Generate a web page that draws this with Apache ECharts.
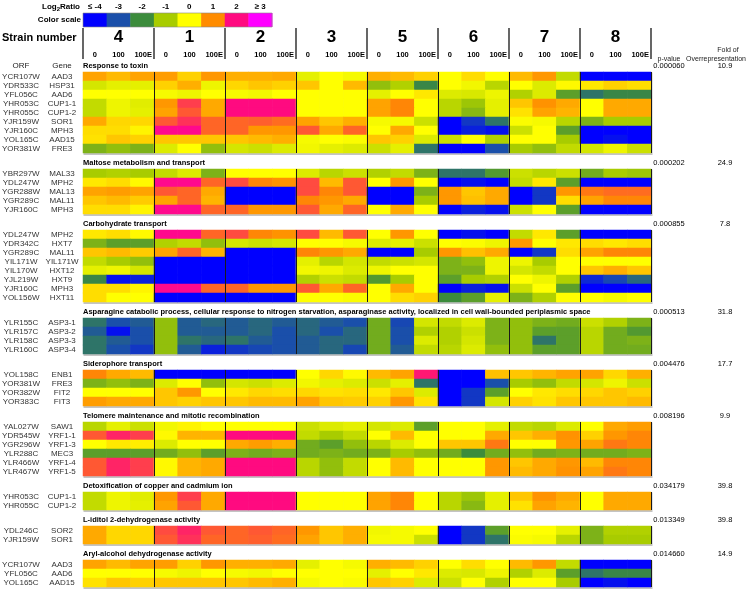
<!DOCTYPE html>
<html><head><meta charset="utf-8">
<script src="https://cdn.jsdelivr.net/npm/echarts@6.0.0/dist/echarts.min.js"></script>
<style>html,body{margin:0;padding:0;background:#fff;}#chart{width:750px;height:596px;}</style>
</head><body><div id="chart"></div>
<script>
// ---------------- data ----------------
const strains = ['4', '1', '2', '3', '5', '6', '7', '8'];
const conditions = ['0', '100', '100E'];
const scaleLabels = ['≤ -4', '-3', '-2', '-1', '0', '1', '2', '≥ 3'];
const scaleColors = ['#0000ff', '#1a4faa', '#3c8c3c', '#a8cc00', '#ffff00', '#ff8c00', '#ff0a80', '#ff00ff'];
const scaleMin = -4, scaleMax = 3;

const sectionTitles = [
  'Response to toxin',
  'Maltose metabolism and transport',
  'Carbohydrate transport',
  'Asparagine catabolic process, cellular response to nitrogen starvation, asparaginase activity, localized in cell wall-bounded periplasmic space',
  'Siderophore transport',
  'Telomere maintenance and mitotic recombination',
  'Detoxification of copper and cadmium ion',
  'L-iditol 2-dehydrogenase activity',
  'Aryl-alcohol dehydrogenase activity'
];
const pValues = ['0.000060', '0.000202', '0.000855', '0.000513', '0.004476', '0.008196', '0.034179', '0.013349', '0.014660'];
const foldValues = ['10.9', '24.9', '7.8', '31.8', '17.7', '9.9', '39.8', '39.8', '14.9'];

const sectionOrfs = [
  ['YCR107W', 'YDR533C', 'YFL056C', 'YHR053C', 'YHR055C', 'YJR159W', 'YJR160C', 'YOL165C', 'YOR381W'],
  ['YBR297W', 'YDL247W', 'YGR288W', 'YGR289C', 'YJR160C'],
  ['YDL247W', 'YDR342C', 'YGR289C', 'YIL171W', 'YIL170W', 'YJL219W', 'YJR160C', 'YOL156W'],
  ['YLR155C', 'YLR157C', 'YLR158C', 'YLR160C'],
  ['YOL158C', 'YOR381W', 'YOR382W', 'YOR383C'],
  ['YAL027W', 'YDR545W', 'YGR296W', 'YLR288C', 'YLR466W', 'YLR467W'],
  ['YHR053C', 'YHR055C'],
  ['YDL246C', 'YJR159W'],
  ['YCR107W', 'YFL056C', 'YOL165C']
];
const sectionGenes = [
  ['AAD3', 'HSP31', 'AAD6', 'CUP1-1', 'CUP1-2', 'SOR1', 'MPH3', 'AAD15', 'FRE3'],
  ['MAL33', 'MPH2', 'MAL13', 'MAL11', 'MPH3'],
  ['MPH2', 'HXT7', 'MAL11', 'YIL171W', 'HXT12', 'HXT9', 'MPH3', 'HXT11'],
  ['ASP3-1', 'ASP3-2', 'ASP3-3', 'ASP3-4'],
  ['ENB1', 'FRE3', 'FIT2', 'FIT3'],
  ['SAW1', 'YRF1-1', 'YRF1-3', 'MEC3', 'YRF1-4', 'YRF1-5'],
  ['CUP1-1', 'CUP1-2'],
  ['SOR2', 'SOR1'],
  ['AAD3', 'AAD6', 'AAD15']
];

// log2 ratios, columns: strains 4,1,2,3,5,6,7,8 x conditions 0,100,100E
const rAAD3   = [0.8,0.6,0.8, 0.85,0.4,0.9, 0.7,0.7,0.75, -0.3,0,-0.1, 0.7,0.6,0.4, 0,0.3,0, 0.6,0.9,-0.7, -4,-4,-4];
const rHSP31  = [-0.5,-0.3,-0.3, 0.4,0.7,-0.2, 0.35,0.5,0.4, 0.5,0,0.6, -1.2,-0.9,-2.1, 0,-0.15,-0.8, 0,-0.4,0.05, 0.2,0.4,0.3];
const rAAD6   = [0,0,0, -0.1,-0.2,0, -0.1,-0.15,0, 0,0,0, -0.3,0,0.2, -0.4,-0.45,-0.2, -0.9,-0.4,-1.7, -2.4,-2.1,-2.1];
const rCUP1_1 = [-0.7,-0.2,-0.35, 0.9,1.6,0.75, 2,2,2, 0,0,0, 0.8,1.05,0, -0.8,-1.1,-0.3, 0.5,0.95,0.75, 0,0.75,0.75];
const rCUP1_2 = [-0.7,-0.2,-0.3, 0.8,1.4,0.75, 2,2,2, 0,0,0, 0.8,1.05,0, -0.8,-1.3,-0.3, 0.25,0.8,0.65, 0,0.75,0.75];
const rSOR1   = [0.75,0.35,0.35, 1.4,1.7,1.3, 1.3,1.35,1.25, 0.8,0.5,0.7, -0.1,-0.1,-0.6, -4,-3.3,-2.4, -0.05,-0.1,-0.8, -1.4,-1.0,-1.0];
const rMPH3   = [0.3,0.3,0.1, 2.1,2.1,1.3, 1.3,0.9,0.9, 1.4,0.75,1.3, 0,0.75,0, -4,-3.6,-3.8, -0.6,0,-1.7, -4,-4,-4];
const rAAD15  = [0.25,0.5,0.4, 0.5,0.5,0.5, 0.5,0.6,0.7, -0.1,0,-0.05, 0.5,0.4,-0.4, -0.6,0,-0.9, 0,0,-1.0, -4,-3.8,-4];
const rFRE3   = [-1.4,-1.2,-1.4, -0.4,0,-1.2, -0.5,-0.6,-0.4, -0.15,-0.3,-0.4, -0.6,-0.3,-2.4, -4,-4,-3, -1.0,-1.2,-0.7, -0.5,-0.2,-0.6];
const rMAL33  = [-1.0,-0.9,-1.0, -0.7,-0.4,-1.4, 0,0,0, -0.4,-0.8,-0.6, -0.9,-0.7,-1.4, -2.4,-2.4,-1.8, -0.6,-0.8,-0.6, -1.5,-1.0,-1.1];
const rMPH2   = [0.2,0.3,0.05, 2.1,2.1,1.3, 1.5,1.05,0.95, 1.5,0.6,1.4, 0,0.9,0, -4,-3.8,-4, -0.7,0.2,-1.7, -4,-4,-4];
const rMAL13  = [0.8,0.85,0.8, 1.4,1.3,0.75, -4,-4,-4, 1.5,1.05,1.4, -4,-4,-1.4, 0.9,0.5,0.75, -4,-3.3,0.9, 1.15,1.25,1.25];
const rMAL11  = [0.5,0.6,0.45, 0.8,1.3,0.65, -4,-4,-4, 1.05,0.9,0.75, -4,-4,-1.0, 0.9,0.55,0.75, -4,-3.3,0.3, 0.8,1.05,1.05];
const rHXT7   = [-1.4,-1.7,-1.7, -0.9,-0.7,-1.2, -0.5,-0.6,-0.5, 0,0,-0.1, -0.4,-0.3,-0.6, 0,-0.05,-0.2, 0.9,0,0.2, 0.3,0.2,0.3];
const rYIL171W= [-0.7,-1.0,-1.2, -4,-4,-4, -4,-4,-4, -0.3,-0.8,-0.5, -0.7,-0.6,-0.5, -1.4,-1.2,-0.2, -0.2,-1.0,0, 0,0,0];
const rHXT12  = [-0.3,-0.2,-0.5, -4,-4,-4, -4,-4,-4, -0.15,-0.2,-0.4, -0.2,0,0, -1.4,-1.4,-0.2, -0.5,-0.7,0, 0.5,0.7,0.5];
const rHXT9   = [-2.1,-3.8,-3.6, -4,-4,-4, -4,-4,-4, -0.9,-0.6,-0.7, -1.8,-1.0,0, -1.7,-1.0,-0.9, 0,-0.2,-0.9, -3.5,-3.1,-2.6];
const rHXT11  = [0.3,0,0, -4,-4,-4, -4,-4,-4, 0,0,-0.05, 0,0.3,0.4, -2.0,-1.7,-0.3, -1.4,-0.9,0, 0,-0.1,0];
const rASP3_1 = [-2.4,-3.0,-2.8, -1.2,-2.8,-2.6, -2.8,-2.6,-2.8, -2.6,-2.8,-3.0, -1.5,-3.1,-0.5, -0.7,-0.4,-1.4, -1.2,-1.4,-1.5, -0.6,-0.9,-1.4];
const rASP3_2 = [-2.8,-3.8,-3.0, -1.2,-2.8,-2.8, -2.8,-2.6,-3.0, -2.6,-3.0,-2.6, -1.5,-3.0,-0.9, -0.9,-0.6,-1.4, -1.2,-1.7,-1.7, -0.8,-1.5,-1.8];
const rASP3_3 = [-2.4,-2.8,-3.0, -1.2,-2.4,-2.6, -2.4,-2.8,-3.0, -2.8,-2.6,-2.6, -1.5,-3.0,-0.4, -0.9,-0.5,-1.4, -1.2,-2.4,-1.7, -0.8,-1.5,-1.4];
const rASP3_4 = [-2.4,-3.0,-3.3, -1.2,-2.8,-3.6, -3.3,-3.1,-3.0, -2.8,-2.6,-3.1, -1.5,-2.8,-0.7, -0.8,-0.4,-1.2, -1.2,-1.7,-1.7, -0.8,-1.5,-1.5];
const rENB1   = [1.05,0.75,0.6, -4,-4,-4, -4,-4,-4, 0,0.35,0.05, 0.6,0.8,1.9, -4,-4,0.55, 0.5,0.65,0.8, 0.8,0.35,0.7];
const rFIT2   = [0,0,0, 0.5,0.9,0, 0.2,0.35,0.3, 0.35,0.25,0.3, 0.2,0.5,-0.4, -4,-3.3,-1.7, 0,0.2,0.3, 0.35,0.5,0.4];
const rFIT3   = [0.85,0.75,0.75, 0.5,0.4,0.5, 0.5,0.6,0.6, 0.8,0.5,0.45, 0.4,0.9,0.25, -4,-3.3,-0.5, 0.4,0.25,0.5, 0.5,0.5,0.6];
const rSAW1   = [-0.8,-0.3,-0.6, -0.15,0.1,0, 0,0,0, -0.6,-0.4,-0.3, -0.5,-0.4,-1.7, 0,0,-0.3, -0.7,-0.8,-0.4, 0,0.75,0.85];
const rYRF1_1 = [1.4,1.8,1.6, 0.05,0.65,0.65, 2,2,2, -0.7,-1.0,-0.7, 0,0.6,0, 0,0,0.75, 0.5,0.7,0.95, 0.4,0.9,1.05];
const rYRF1_3 = [0,0.2,0.15, -0.4,0,0, 0.75,0.85,0.7, -1.5,-1.7,-1.2, -0.8,-0.4,0, 0.5,0.5,1.15, 0,0,0.9, 0.8,1.15,1.05];
const rMEC3   = [-1.7,-1.7,-1.7, -1.5,-1.2,-1.7, -1.4,-1.5,-1.4, -1.5,-1.4,-1.5, -1.4,-1.0,-1.2, -1.5,-2.0,-1.5, -1.2,-1.5,-1.4, -1.5,-1.5,-1.4];
const rYRF1_4 = [1.4,1.8,1.6, 0.05,0.65,0.75, 2,2,2, -0.8,-1.2,-0.7, 0,0.6,0, 0,0,0.9, 0.5,0.75,0.9, 0.6,1.05,1.05];
const rYRF1_5 = [1.4,1.8,1.6, 0.05,0.65,0.75, 2,2,2, -0.8,-1.2,-0.7, 0,0.6,0, 0,0,0.9, 0.6,0.75,0.95, 0.8,1.15,1.05];
const rSOR2   = [0.75,0.35,0.35, 1.5,1.8,1.4, 1.3,1.4,1.3, 0.9,0.5,0.7, -0.15,-0.1,0, -4,-3.3,-1.7, 0,0,-0.3, -1.4,-0.9,-0.9];

const ratioByGene = {
  'AAD3': rAAD3, 'HSP31': rHSP31, 'AAD6': rAAD6, 'CUP1-1': rCUP1_1, 'CUP1-2': rCUP1_2,
  'SOR1': rSOR1, 'MPH3': rMPH3, 'AAD15': rAAD15, 'FRE3': rFRE3, 'MAL33': rMAL33,
  'MPH2': rMPH2, 'MAL13': rMAL13, 'MAL11': rMAL11, 'HXT7': rHXT7, 'YIL171W': rYIL171W,
  'HXT12': rHXT12, 'HXT9': rHXT9, 'HXT11': rHXT11, 'ASP3-1': rASP3_1, 'ASP3-2': rASP3_2,
  'ASP3-3': rASP3_3, 'ASP3-4': rASP3_4, 'ENB1': rENB1, 'FIT2': rFIT2, 'FIT3': rFIT3,
  'SAW1': rSAW1, 'YRF1-1': rYRF1_1, 'YRF1-3': rYRF1_3, 'MEC3': rMEC3, 'YRF1-4': rYRF1_4,
  'YRF1-5': rYRF1_5, 'SOR2': rSOR2
};

// ---------------- layout ----------------
const FONT = "'Liberation Sans Narrow','Liberation Sans',Arial,sans-serif";
const L = {
  left: 83, width: 568, top0: 72, rowH: 9, gap: 16,
  legendX: 83, legendW: 189, legendY: 13, legendH: 14,
  headerBarTop: 28, headerBarBottom: 59, strainY: 37, condY: 55,
  pX: 669, foldX: 725, orfX: 21, geneX: 62
};
const columns = [];
strains.forEach(s => conditions.forEach(c => columns.push(s + '|' + c)));
const nCols = columns.length;
const cellW = L.width / nCols;

const grids = [], xAxes = [], yAxes = [], series = [], graphics = [];

function txt(text, x, y, size, opts) {
  opts = opts || {};
  return {
    type: 'text', silent: true, z: 50,
    style: {
      text: text, x: x, y: y,
      font: (opts.bold ? 'bold ' : '') + size + 'px ' + FONT,
      fill: opts.color || '#000',
      textAlign: opts.align || 'left',
      textVerticalAlign: 'middle',
      rich: opts.rich
    }
  };
}

let curTop = L.top0;
sectionTitles.forEach((title, s) => {
  const genes = sectionGenes[s], orfs = sectionOrfs[s];
  const h = genes.length * L.rowH;
  grids.push({ left: L.left, top: curTop, width: L.width, height: h, containLabel: false, outerBoundsMode: 'none', show: false });
  xAxes.push({
    type: 'category', gridIndex: s, data: columns, z: 6,
    axisLine: { show: false }, axisTick: { show: false }, axisLabel: { show: false },
    splitLine: { show: true, interval: (i) => i > 0 && i % 3 === 0, lineStyle: { color: '#1a1a1a', width: 1 } }
  });
  yAxes.push({
    type: 'category', gridIndex: s, inverse: true,
    data: genes.map((g, i) => orfs[i] + '|' + g),
    axisLine: { show: false }, axisTick: { show: false }, splitLine: { show: false },
    axisLabel: {
      interval: 0, margin: 2, fontFamily: FONT, fontSize: 8, color: '#333',
      formatter: (v) => { const p = v.split('|'); return '{o|' + p[0] + '}{g|' + p[1] + '}'; },
      rich: {
        o: { width: 44, align: 'center', fontFamily: FONT, fontSize: 8, color: '#333' },
        g: { width: 38, align: 'center', fontFamily: FONT, fontSize: 8, color: '#333' }
      }
    }
  });
  const vals = [];
  genes.forEach((g, r) => ratioByGene[g].forEach((v, c) => vals.push([c, r, v])));
  series.push({
    type: 'heatmap', xAxisIndex: s, yAxisIndex: s, data: vals, silent: true,
    itemStyle: { borderWidth: 0 }, emphasis: { disabled: true }, progressive: 0
  });
  // soft frame under each block
  graphics.push({ type: 'rect', silent: true, z: 0, shape: { x: L.left + 0.5, y: curTop + 0.5, width: L.width + 1, height: h + 1.5 }, style: { fill: '#c4c4c4' } });
  const ty = curTop - 6;
  graphics.push(txt(title, L.left, ty, 7.5, { bold: true }));
  graphics.push(txt(pValues[s], L.pX, ty, 7.5, { align: 'center' }));
  graphics.push(txt(foldValues[s], L.foldX, ty, 7.5, { align: 'center' }));
  if (s === 0) {
    graphics.push(txt('ORF', L.orfX, ty, 8, { align: 'center', color: '#222' }));
    graphics.push(txt('Gene', L.geneX, ty, 8, { align: 'center', color: '#222' }));
  }
  curTop += h + L.gap;
});

// colour scale legend
const sw = L.legendW / scaleColors.length;
scaleColors.forEach((c, i) => {
  graphics.push({ type: 'rect', silent: true, shape: { x: L.legendX + i * sw, y: L.legendY, width: sw + 0.5, height: L.legendH }, style: { fill: c } });
  graphics.push(txt(scaleLabels[i], L.legendX + (i + 0.5) * sw, L.legendY - 6, 8, { bold: true, align: 'center' }));
});
graphics.push({ type: 'rect', silent: true, shape: { x: L.legendX, y: L.legendY, width: L.legendW, height: L.legendH }, style: { fill: 'none', stroke: '#888', lineWidth: 0.6 } });
graphics.push(txt('Log{s|2}Ratio', L.legendX - 3, L.legendY - 6, 8, { bold: true, align: 'right', rich: { s: { fontSize: 6, verticalAlign: 'bottom', padding: [4, 0, 0, 0], fontWeight: 'bold', fontFamily: FONT } } }));
graphics.push(txt('Color scale', L.legendX - 2, L.legendY + L.legendH / 2, 8, { bold: true, align: 'right' }));

// header
graphics.push(txt('Strain number', 2, L.strainY + 1, 11, { bold: true }));
strains.forEach((st, g) => {
  graphics.push(txt(st, L.left + (g * 3 + 1.5) * cellW, L.strainY, 17, { bold: true, align: 'center' }));
  conditions.forEach((c, k) => {
    graphics.push(txt(c, L.left + (g * 3 + k + 0.5) * cellW + (k === 2 ? 1 : 0), L.condY, 7.5, { bold: true, align: 'center' }));
  });
});
for (let g = 0; g <= strains.length; g++) {
  const x = L.left + g * 3 * cellW;
  graphics.push({ type: 'line', silent: true, shape: { x1: x, y1: L.headerBarTop, x2: x, y2: L.headerBarBottom }, style: { stroke: '#000', lineWidth: 1.2 } });
}
graphics.push(txt('p-value', L.pX, 59, 7, { align: 'center', color: '#222' }));
graphics.push(txt('Fold of', 728, 50, 7, { align: 'center', color: '#222' }));
graphics.push(txt('Overrepresentation', 746, 59, 7, { align: 'right', color: '#222' }));

const chart = echarts.init(document.getElementById('chart'), null, { renderer: 'canvas' });
chart.setOption({
  animation: false,
  backgroundColor: '#fff',
  grid: grids, xAxis: xAxes, yAxis: yAxes, series: series,
  visualMap: {
    type: 'continuous', show: false, min: scaleMin, max: scaleMax, dimension: 2,
    seriesIndex: series.map((_, i) => i),
    inRange: { color: scaleColors }
  },
  graphic: { elements: graphics }
});
</script></body></html>
